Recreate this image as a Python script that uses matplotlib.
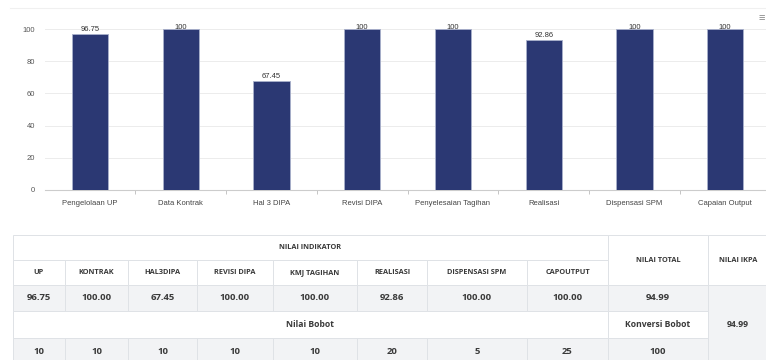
import matplotlib.pyplot as plt
from matplotlib.patches import Rectangle

# Data
categories = ['Pengelolaan UP', 'Data Kontrak', 'Hal 3 DIPA', 'Revisi DIPA',
              'Penyelesaian Tagihan', 'Realisasi', 'Dispensasi SPM', 'Capaian Output']
values = [96.75, 100, 67.45, 100, 100, 92.86, 100, 100]
value_labels = ['96.75', '100', '67.45', '100', '100', '92.86', '100', '100']
y_ticks = [0, 20, 40, 60, 80, 100]

col_headers = ['UP', 'KONTRAK', 'HAL3DIPA', 'REVISI DIPA', 'KMJ TAGIHAN',
               'REALISASI', 'DISPENSASI SPM', 'CAPOUTPUT']
nilai_indikator = ['96.75', '100.00', '67.45', '100.00', '100.00', '92.86', '100.00', '100.00']
nilai_bobot = ['10', '10', '10', '10', '10', '20', '5', '25']
nilai_total = '94.99'
konversi_bobot = '100'
nilai_ikpa = '94.99'

W, H = 766, 360
fig = plt.figure(figsize=(W / 100, H / 100), dpi=100)
plt.rcParams['font.family'] = ['Liberation Sans', 'DejaVu Sans']

# Background canvas in pixel coords for table and decorations
bg = fig.add_axes([0, 0, 1, 1])
bg.set_xlim(0, W)
bg.set_ylim(H, 0)
bg.axis('off')

bg.plot([10, W], [8, 8], color='#f0f0f0', lw=0.8)
bg.text(762, 18, '\u2261', fontsize=8, color='#888888', ha='center', va='center')

# Bar chart
ax = fig.add_axes([45 / W, (H - 190) / H, (W - 45) / W, (190 - 29) / H])
x = list(range(len(categories)))
bars = ax.bar(x, values, width=0.4, color='#2b3873', edgecolor='#a9b1cc', linewidth=0.6, zorder=3)
for xi, v, lab in zip(x, values, value_labels):
    # labels are kept inside the plot area, like the original chart does
    ax.text(xi, min(v + 1.0, 98.8), lab, ha='center', va='bottom', fontsize=5.5,
            color='#333333', clip_on=False, zorder=4)

ax.set_xlim(-0.496, 7.45)
ax.set_ylim(0, 100)
ax.set_yticks(y_ticks)
ax.set_xticks(x)
ax.set_xticklabels(categories)
ax.set_xticks([i + 0.5 for i in x[:-1]], minor=True)
ax.tick_params(axis='x', which='major', length=0, labelsize=5.5, labelcolor='#444444', pad=7)
ax.tick_params(axis='x', which='minor', length=3, color='#bbbbbb', width=0.6)
ax.tick_params(axis='y', length=0, labelsize=5.5, labelcolor='#555555', pad=7)
ax.grid(axis='y', color='#ececec', lw=0.7, zorder=0)
for s in ['top', 'right', 'left']:
    ax.spines[s].set_visible(False)
ax.spines['bottom'].set_color('#cccccc')
ax.spines['bottom'].set_linewidth(0.8)
ax.set_facecolor('none')

# Table
col_x = [13, 65, 128, 197, 273, 357, 427, 527, 608, 708, 768]
row_y = [235, 260, 285, 311, 338, 364]
grey = '#f2f3f5'
line_c = '#dfe2e6'
txt_c = '#3a3a3a'
tfont = ['Open Sans', 'DejaVu Sans']


def cell(c0, c1, r0, r1, text, fc='white', size=6.8, weight='bold'):
    x0, x1 = col_x[c0], col_x[c1]
    y0, y1 = row_y[r0], row_y[r1]
    bg.add_patch(Rectangle((x0, y0), x1 - x0, y1 - y0, facecolor=fc,
                           edgecolor=line_c, linewidth=0.7))
    bg.text((x0 + x1) / 2, (y0 + y1) / 2, text, ha='center', va='center',
            fontsize=size, fontweight=weight, color=txt_c, family=tfont)


hs = 5.3
cell(0, 8, 0, 1, 'NILAI INDIKATOR', size=hs)
cell(8, 9, 0, 2, 'NILAI TOTAL', size=hs)
cell(9, 10, 0, 2, 'NILAI IKPA', size=hs)
for i, h in enumerate(col_headers):
    cell(i, i + 1, 1, 2, h, size=hs)
for i, v in enumerate(nilai_indikator):
    cell(i, i + 1, 2, 3, v, fc=grey)
cell(8, 9, 2, 3, nilai_total, fc=grey)
cell(9, 10, 2, 5, nilai_ikpa, fc=grey, size=6.2)
cell(0, 8, 3, 4, 'Nilai Bobot', size=6.2)
cell(8, 9, 3, 4, 'Konversi Bobot', size=6.2)
for i, v in enumerate(nilai_bobot):
    cell(i, i + 1, 4, 5, v, fc=grey)
cell(8, 9, 4, 5, konversi_bobot, fc=grey)

fig.savefig('out.png', dpi=100)
